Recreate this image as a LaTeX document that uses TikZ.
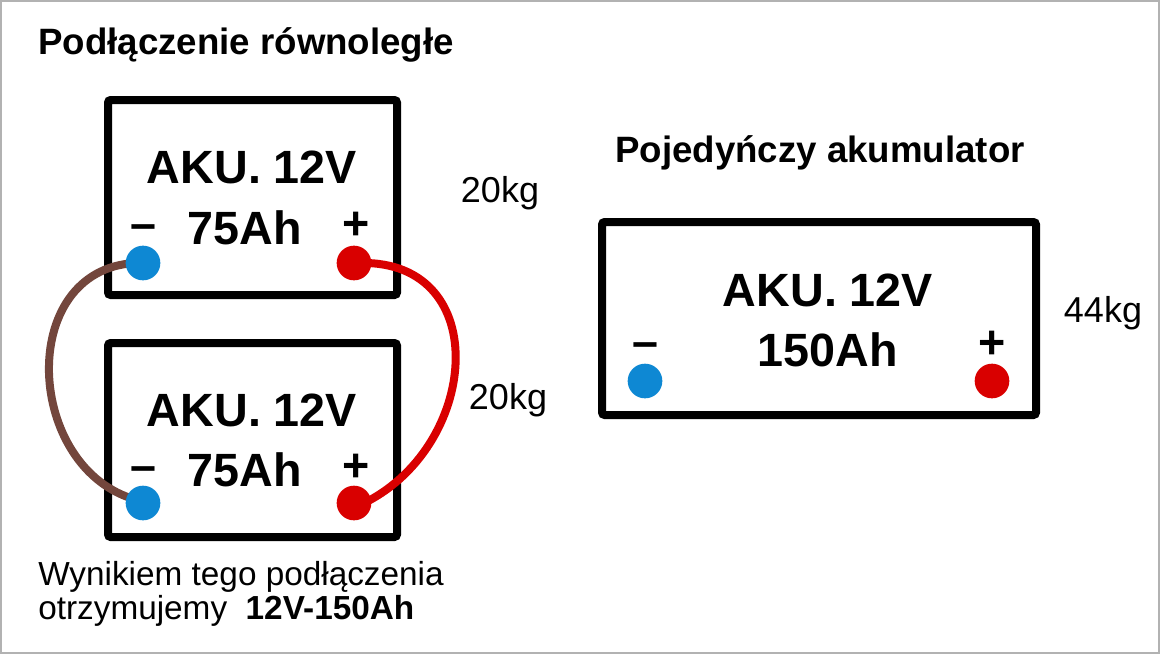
\documentclass[tikz,border=0pt]{standalone}
\usepackage{fontspec}
\setmainfont{Liberation Sans}
\definecolor{wirebrown}{RGB}{115,70,60}
\begin{document}
\begin{tikzpicture}[x=0.75pt,y=-0.75pt,
  box/.style={draw=black,line width=6pt,rounded corners=2pt},
  negterm/.style={circle,fill=cyan!70!blue,minimum size=26pt,inner sep=0pt},
  posterm/.style={circle,fill=red!85!black,minimum size=26pt,inner sep=0pt},
  big/.style={font=\fontsize{35}{38}\selectfont\bfseries},
  tt/.style={font=\fontsize{27.5}{30}\selectfont\bfseries},
  kg/.style={font=\fontsize{27}{30}\selectfont},
  txt/.style={font=\fontsize{25}{28}\selectfont,anchor=west,inner sep=0pt}]
\useasboundingbox (0,0) rectangle (1160,654);
\draw[gray!60,line width=1.5pt] (1,1) rectangle (1159,653);
% boxes
\node[box,minimum width=216.75pt,minimum height=146.25pt] (b1) at (252.5,197.5) {};
\node[box,minimum width=216.75pt,minimum height=145.5pt] (b2) at (252.5,440) {};
\node[box,minimum width=325.5pt,minimum height=144.75pt] (b3) at (819,318.5) {};
% texts
\node[tt,anchor=west,inner sep=0pt] (t1) at (38,45) {Podłączenie równoległe};
\node[tt] (t2) at (820,153) {Pojedyńczy akumulator};
\node[big] (a1) at (252,167) {AKU. 12V};
\node[big] (c1) at (245,228) {75Ah};
\node[big] (m1) at (143,232) {–};
\node[big] (p1) at (356,226) {+};
\node[big] (a2) at (252,410) {AKU. 12V};
\node[big] (c2) at (245,470) {75Ah};
\node[big] (m2) at (143,474) {–};
\node[big] (p2) at (356,468) {+};
\node[big] (a3) at (828,290) {AKU. 12V};
\node[big] (c3) at (828,350) {150Ah};
\node[big] (m3) at (645,350) {–};
\node[big] (p3) at (992,345) {+};
\node[kg] (k1) at (500,193) {20kg};
\node[kg] (k2) at (508,400) {20kg};
\node[kg] (k3) at (1103,313) {44kg};
\node[txt] (w1) at (38,577) {Wynikiem tego podłączenia};
\node[txt] (w2) at (38,611) {otrzymujemy\ \ \textbf{12V-150Ah}};
% wires
\coordinate (bw1) at (135,263);
\coordinate (bw2) at (137,500);
\draw[line width=6pt,wirebrown,line cap=round] (bw1) .. controls (15,270) and (25,470) .. (bw2);
\coordinate (rw1) at (360,263);
\coordinate (rw2) at (360,505);
\draw[line width=6pt,red!85!black,line cap=round] (rw1) .. controls (495,260) and (480,450) .. (rw2);
% terminals
\node[negterm] (n1) at (143,263) {};
\node[posterm] (q1) at (354,263) {};
\node[negterm] (n2) at (143,503) {};
\node[posterm] (q2) at (354,503) {};
\node[negterm] (n3) at (645,381) {};
\node[posterm] (q3) at (992,381) {};
\end{tikzpicture}
\end{document}
